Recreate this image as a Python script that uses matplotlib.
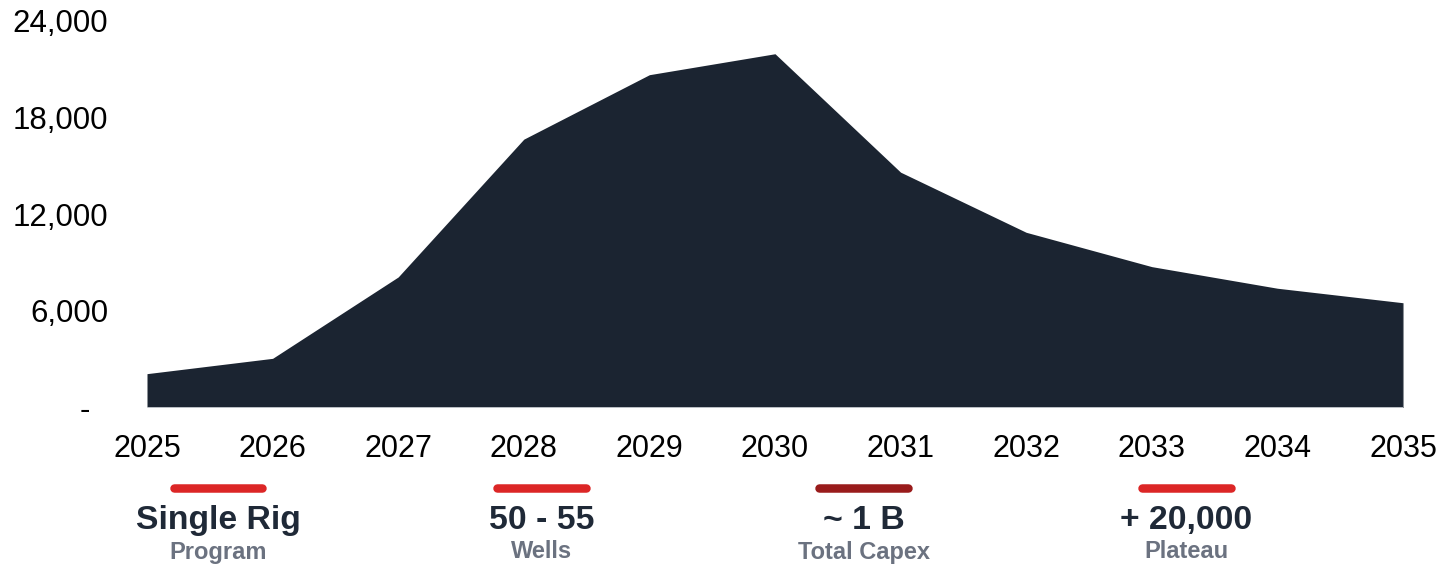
import matplotlib
matplotlib.use("Agg")
import matplotlib.pyplot as plt
from matplotlib.lines import Line2D

plt.rcParams['font.family'] = ['Liberation Sans', 'DejaVu Sans']

# Annual production profile
years = [2025, 2026, 2027, 2028, 2029, 2030, 2031, 2032, 2033, 2034, 2035]
production = [2100, 3050, 8100, 16650, 20650, 21950, 14600, 10870, 8740, 7400, 6500]

y_ticks = [0, 6000, 12000, 18000, 24000]
y_tick_labels = ["-  ", "6,000", "12,000", "18,000", "24,000"]

# Key figures shown under the chart
highlight_values = ["Single Rig", "50 - 55", "~ 1 B", "+ 20,000"]
highlight_captions = ["Program", "Wells", "Total Capex", "Plateau"]
highlight_colors = ["#dc2626", "#dc2626", "#991b1b", "#dc2626"]

AREA = "#1b2431"
TEXT_DARK = "#1f2937"
TEXT_MUTED = "#6b7280"

W, H = 1443, 566
fig = plt.figure(figsize=(W / 100, H / 100), dpi=100)
ax = fig.add_axes([147 / W, 1 - 407.5 / H, (1403 - 147) / W, (407.5 - 20.7) / H])

ax.fill_between(years, production, 0, color=AREA, linewidth=0, zorder=2)
ax.plot([years[0], years[-1]], [0, 0], color="#d9dce1", linewidth=1.2, zorder=3)
ax.plot([years[-1], years[-1]], [0, production[-1]], color="#9aa0a8", linewidth=0.8, zorder=3)

ax.set_xlim(years[0], years[-1])
ax.set_ylim(0, 24000)
ax.set_xticks(years)
ax.set_xticklabels([str(y) for y in years])
ax.set_yticks(y_ticks)
ax.set_yticklabels(y_tick_labels)
ax.tick_params(axis='x', length=0, pad=19, labelsize=22, labelcolor="#000000")
ax.tick_params(axis='y', length=0, pad=28, labelsize=22.5, labelcolor="#000000")
for s in ax.spines.values():
    s.set_visible(False)
ax.set_facecolor("none")

# Key figure blocks
centers_px = [218, 541.5, 863.5, 1186.5]
bar_half = 48.5
bar_w_px = 8.5
for cx, val, cap, col in zip(centers_px, highlight_values, highlight_captions, highlight_colors):
    r = bar_w_px / 2
    line = Line2D([(cx - bar_half + r) / W, (cx + bar_half - r) / W],
                  [1 - 487.5 / H, 1 - 487.5 / H],
                  transform=fig.transFigure, color=col,
                  linewidth=bar_w_px * 72 / 100, solid_capstyle='round')
    fig.add_artist(line)
    fig.text(cx / W, 1 - 520.5 / H, val, ha='center', va='center',
             fontsize=24.3, fontweight='bold', color=TEXT_DARK)
    fig.text(cx / W, 1 - 552 / H, cap, ha='center', va='center',
             fontsize=17, fontweight='bold', color=TEXT_MUTED)

fig.savefig("out.png", dpi=100, facecolor="white")
